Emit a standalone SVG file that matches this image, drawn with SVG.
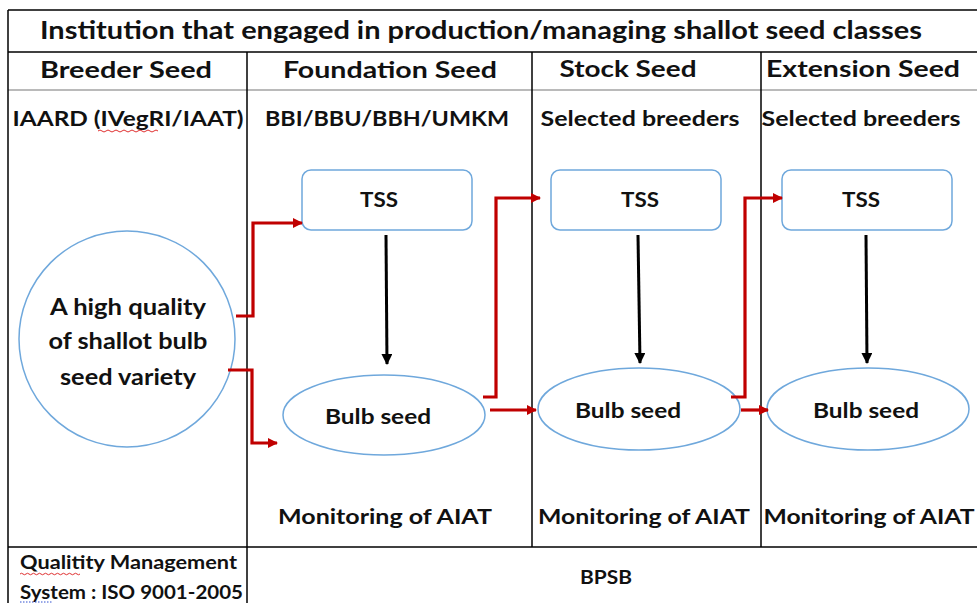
<svg xmlns="http://www.w3.org/2000/svg" width="977" height="603" viewBox="0 0 977 603">
<style>
.t{font-family:Lato,"Liberation Sans",Arial,sans-serif;font-weight:bold;fill:#111;text-anchor:middle}
.tl{font-family:Lato,"Liberation Sans",Arial,sans-serif;font-weight:bold;fill:#111}
.grid{stroke:#000;stroke-width:1.5;fill:none}
.shape{fill:#fff;stroke:#6FA8DC;stroke-width:1.5}
.red{fill:none;stroke:#C00000;stroke-width:3.2;stroke-linejoin:miter}
.blk{fill:none;stroke:#000;stroke-width:3}
</style>
<defs>
<marker id="ar" markerWidth="10" markerHeight="10" refX="9" refY="5" orient="auto" markerUnits="userSpaceOnUse" viewBox="0 0 10 10">
<path d="M0,0 L10,5 L0,10 z" fill="#C00000"/>
</marker>
<marker id="ab" markerWidth="11" markerHeight="11" refX="10" refY="5.5" orient="auto" markerUnits="userSpaceOnUse" viewBox="0 0 11 11">
<path d="M0,0 L11,5.5 L0,11 z" fill="#000"/>
</marker>
</defs>
<rect width="977" height="603" fill="#fff"/>
<g id="table">
<line class="grid" x1="8" y1="10" x2="977" y2="10"/>
<line class="grid" x1="8" y1="52" x2="977" y2="52"/>
<line x1="8" y1="90" x2="977" y2="90" stroke="#777" stroke-width="1.2"/>
<line class="grid" x1="8" y1="547" x2="977" y2="547"/>
<line class="grid" x1="8" y1="10" x2="8" y2="603"/>
<line class="grid" x1="247" y1="52" x2="247" y2="603"/>
<line class="grid" x1="532" y1="52" x2="532" y2="547"/>
<line class="grid" x1="761" y1="52" x2="761" y2="547"/>
<text class="t" x="481" y="39" font-size="24" textLength="882" lengthAdjust="spacingAndGlyphs">Institution that engaged in production/managing shallot seed classes</text>
<text class="t" x="126" y="78" font-size="23" textLength="172" lengthAdjust="spacingAndGlyphs">Breeder Seed</text>
<text class="t" x="390" y="78" font-size="23" textLength="214" lengthAdjust="spacingAndGlyphs">Foundation Seed</text>
<text class="t" x="628" y="77" font-size="23" textLength="137" lengthAdjust="spacingAndGlyphs">Stock Seed</text>
<text class="t" x="863" y="77" font-size="23" textLength="194" lengthAdjust="spacingAndGlyphs">Extension Seed</text>
<text class="t" x="128" y="126" font-size="20" textLength="231" lengthAdjust="spacingAndGlyphs">IAARD (IVegRI/IAAT)</text>
<path d="M98,131 q2,-2 4,0 t4,0 t4,0 t4,0 t4,0 t4,0 t4,0 t4,0 t4,0 t4,0 t4,0 t4,0 t4,0 t4,0 t4,0" fill="none" stroke="#e03030" stroke-width="1"/>
<text class="t" x="387" y="126" font-size="20" textLength="244" lengthAdjust="spacingAndGlyphs">BBI/BBU/BBH/UMKM</text>
<text class="t" x="640" y="126" font-size="20" textLength="199" lengthAdjust="spacingAndGlyphs">Selected breeders</text>
<text class="t" x="861" y="126" font-size="20" textLength="199" lengthAdjust="spacingAndGlyphs">Selected breeders</text>
<text class="t" x="385" y="524" font-size="21" textLength="214" lengthAdjust="spacingAndGlyphs">Monitoring of AIAT</text>
<text class="t" x="644" y="524" font-size="21" textLength="212" lengthAdjust="spacingAndGlyphs">Monitoring of AIAT</text>
<text class="t" x="869" y="524" font-size="21" textLength="211" lengthAdjust="spacingAndGlyphs">Monitoring of AIAT</text>
<text class="tl" x="20" y="569" font-size="18" textLength="217" lengthAdjust="spacingAndGlyphs">Qualitity Management</text>
<path d="M20,574 q1.5,-1.5 3,0 t3,0 t3,0 t3,0 t3,0 t3,0 t3,0 t3,0 t3,0 t3,0 t3,0 t3,0 t3,0 t3,0 t3,0 t3,0 t3,0 t3,0 t3,0 t3,0" fill="none" stroke="#e03030" stroke-width="1"/>
<text class="tl" x="20" y="599" font-size="18" textLength="223" lengthAdjust="spacingAndGlyphs">System : ISO 9001-2005</text>
<line x1="20" y1="602" x2="52" y2="602" stroke="#3050d0" stroke-width="1" stroke-dasharray="1.5,1.5"/>
<text class="t" x="606" y="584" font-size="19" textLength="52" lengthAdjust="spacingAndGlyphs">BPSB</text>
</g>
<g id="variety">
<circle class="shape" cx="127" cy="339" r="108"/>
<text class="t" x="128" y="315" font-size="22" textLength="156" lengthAdjust="spacingAndGlyphs">A high quality</text>
<text class="t" x="128" y="349" font-size="22" textLength="159" lengthAdjust="spacingAndGlyphs">of shallot bulb</text>
<text class="t" x="128" y="385" font-size="22" textLength="136" lengthAdjust="spacingAndGlyphs">seed variety</text>
</g>
<g id="tss1">
<rect class="shape" x="302" y="170" width="170" height="60" rx="9"/>
<text class="t" x="379" y="207" font-size="20" textLength="38" lengthAdjust="spacingAndGlyphs">TSS</text>
</g>
<g id="tss2">
<rect class="shape" x="551" y="170" width="170" height="60" rx="9"/>
<text class="t" x="640" y="207" font-size="20" textLength="38" lengthAdjust="spacingAndGlyphs">TSS</text>
</g>
<g id="tss3">
<rect class="shape" x="782" y="170" width="170" height="60" rx="9"/>
<text class="t" x="861" y="207" font-size="20" textLength="38" lengthAdjust="spacingAndGlyphs">TSS</text>
</g>
<g id="bulb1">
<ellipse class="shape" cx="384" cy="415" rx="101" ry="40"/>
<text class="t" x="378" y="424" font-size="21" textLength="106" lengthAdjust="spacingAndGlyphs">Bulb seed</text>
</g>
<g id="bulb2">
<ellipse class="shape" cx="639" cy="409" rx="101" ry="41"/>
<text class="t" x="628" y="418" font-size="21" textLength="106" lengthAdjust="spacingAndGlyphs">Bulb seed</text>
</g>
<g id="bulb3">
<ellipse class="shape" cx="868" cy="409" rx="101" ry="41"/>
<text class="t" x="866" y="418" font-size="21" textLength="106" lengthAdjust="spacingAndGlyphs">Bulb seed</text>
</g>
<g id="connectors">
<path class="blk" d="M386,235 L387,364" marker-end="url(#ab)"/>
<path class="blk" d="M638,235 L640,363" marker-end="url(#ab)"/>
<path class="blk" d="M866,235 L867,363" marker-end="url(#ab)"/>
<path class="red" d="M236,316 H253 V223 H302" marker-end="url(#ar)"/>
<path class="red" d="M228,370 H252 V443 H277" marker-end="url(#ar)"/>
<path class="red" d="M483,397 H496 V198 H540" marker-end="url(#ar)"/>
<path class="red" d="M490,410 H536" marker-end="url(#ar)"/>
<path class="red" d="M731,397 H745 V198 H782" marker-end="url(#ar)"/>
<path class="red" d="M741,410 H768" marker-end="url(#ar)"/>
</g>
</svg>
